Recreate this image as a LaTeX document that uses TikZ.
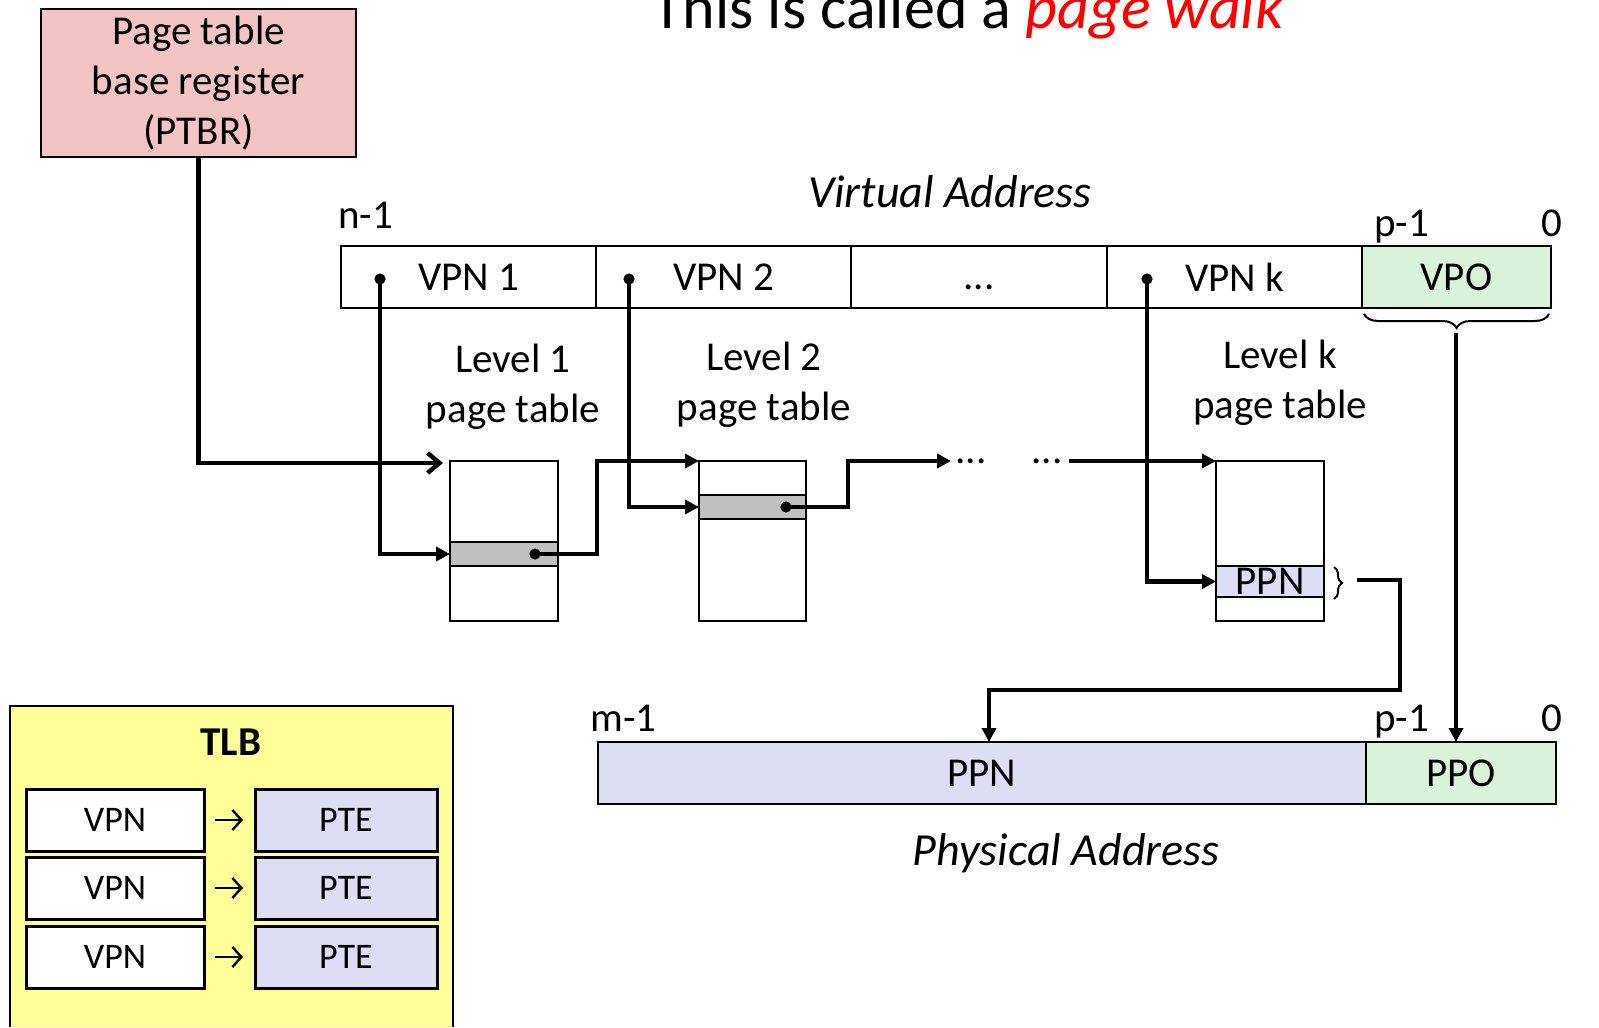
\documentclass[tikz,border=0pt]{standalone}
\usepackage{fontspec}
\setmainfont{Carlito}
\usetikzlibrary{arrows.meta,decorations.pathreplacing,calc}
\definecolor{ptbrpink}{HTML}{F2C4C4}
\definecolor{offgreen}{HTML}{D9F2D9}
\definecolor{lav}{HTML}{DDDDF3}
\definecolor{tblgray}{HTML}{C0C0C0}
\definecolor{tlbyellow}{HTML}{FFFF99}
\begin{document}
\begin{tikzpicture}[x=0.5pt,y=-0.5pt,
  font=\fontsize{20.5}{25}\selectfont,
  cell/.style={draw, line width=1pt, inner sep=0pt, outer sep=0pt, minimum height=31pt},
  tbl/.style={draw, line width=1pt, inner sep=0pt, outer sep=0pt, minimum height=80pt},
  tlbcell/.style={draw, line width=1.5pt, inner sep=0pt, outer sep=0pt, minimum height=31pt, font=\fontsize{18}{22}\selectfont},
  conn/.style={line width=2.2pt, -{Triangle[length=7pt,width=7pt]}},
  lbl/.style={inner sep=0pt},
  italbl/.style={inner sep=0pt, font=\fontsize{23}{25}\selectfont\itshape},
  brc/.style={line width=1pt, decorate},
  dot/.style={fill=black}]
\useasboundingbox (0,0) rectangle (1599,1027);
\clip (0,0) rectangle (1599,1027);

% title
\node[anchor=base, inner sep=0pt, font=\fontsize{31}{31}\selectfont] (title) at (968,29) {This is called a \textcolor{red}{\itshape page walk}};

% PTBR
\node[draw, line width=1pt, fill=ptbrpink, minimum width=157.5pt, minimum height=74pt, inner sep=0pt, outer sep=0pt, align=center] (ptbr) at (198.5,83) {Page table\\base register\\(PTBR)};

% virtual address
\node[italbl] (valbl) at (950,192) {Virtual Address};
\node[lbl, anchor=base west] (n1) at (338,228) {n-1};
\node[lbl, anchor=base west] (vp1) at (1374,236) {p-1};
\node[lbl, anchor=base east] (v0) at (1563,236) {0};
\node[cell, minimum width=127.5pt] (v1) at (468.5,277) {VPN 1};
\node[cell, minimum width=127.5pt] (v2) at (723.5,277) {VPN 2};
\node[cell, minimum width=128pt] (v3) at (979,277) {\vphantom{VPN}...};
\node[cell, minimum width=127.5pt] (vk) at (1234.5,277) {VPN k};
\node[cell, minimum width=94.5pt, fill=offgreen] (vpo) at (1456.5,277) {VPO};

\coordinate (d1) at (380,279);
\coordinate (d2) at (629,279);
\coordinate (dk) at (1147,279);
\fill[dot] (d1) circle (2.8pt);
\fill[dot] (d2) circle (2.8pt);
\fill[dot] (dk) circle (2.8pt);

% level labels
\node[lbl, align=center] (lev1) at (513,387) {Level 1\\page table};
\node[lbl, align=center] (lev2) at (764,385) {Level 2\\page table};
\node[lbl, align=center] (levk) at (1280,383) {Level k\\page table};

% tables
\node[tbl, minimum width=54pt] (t1) at (504,541) {};
\node[cell, minimum width=54pt, minimum height=12pt, fill=tblgray] (g1) at (504,554) {};
\node[tbl, minimum width=53.5pt] (t2) at (752.5,541) {};
\node[cell, minimum width=53.5pt, minimum height=12pt, fill=tblgray] (g2) at (752.5,507) {};
\node[tbl, minimum width=54pt] (tk) at (1270,541) {};
\node[cell, minimum width=54pt, minimum height=15.5pt, fill=lav] (ppnrow) at (1270,581.5) {PPN};

\coordinate (gd1) at (535,554);
\coordinate (gd2) at (786,507);
\fill[dot] (gd1) circle (2.8pt);
\fill[dot] (gd2) circle (2.8pt);

\node[lbl] (dotsA) at (971,461) {...};
\node[lbl] (dotsB) at (1047,461) {...};

% connectors
\draw[line width=2.2pt, -{Straight Barb[length=6pt,width=10pt]}] (ptbr.south) |- ($(t1.north west)+(-7,2)$);
\draw[conn] (d1) |- (g1.west);
\draw[conn] (gd1) -- (597,554) |- (t2.north west);
\draw[conn] (d2) |- (g2.west);
\draw[conn] (gd2) -- (848,507) |- ($(dotsA.west)+(-4,0)$);
\draw[conn] ($(dotsB.east)+(6,0)$) -- (tk.north west);
\draw[conn] (dk) |- (ppnrow.west);

% braces
\draw[brc, decoration={brace, amplitude=4pt}] (1334,567) -- (1334,599);
\coordinate (ppnOut) at (1357,580);
\draw[brc, decoration={brace, amplitude=7pt}] (1549,314) -- (1364,314);
\coordinate (vpoTip) at (1456,333);

% physical address
\node[lbl, anchor=base west] (m1) at (590,731) {m-1};
\node[lbl, anchor=base west] (pp1) at (1374,731) {p-1};
\node[lbl, anchor=base east] (p0) at (1563,731) {0};
\node[cell, minimum width=384pt, fill=lav] (ppnP) at (982,773) {PPN};
\node[cell, minimum width=95pt, fill=offgreen] (ppo) at (1461,773) {PPO};
\node[italbl] (palbl) at (1066,853) {Physical Address};
\coordinate (ppnIn) at (989,742);

\draw[conn] (ppnOut) -- (1400,580) -- (1400,690) -| (ppnIn);
\draw[conn] (vpoTip) -- (vpoTip |- ppo.north);

% TLB (runs off the bottom edge)
\node[fill=tlbyellow, minimum width=221.5pt, minimum height=160.5pt, inner sep=0pt, outer sep=0pt] (tlb) at (231.5,866.5) {};
\draw[line width=1pt] (tlb.south west) |- (tlb.north east) -- (tlb.south east);
\node[lbl, font=\fontsize{20.5}{25}\selectfont\bfseries] (tlbt) at (231,742) {TLB};
\node[tlbcell, minimum width=89pt, fill=white] (tv1) at (115,820) {VPN};
\node[tlbcell, minimum width=89pt, fill=white] (tv2) at (115,888) {VPN};
\node[tlbcell, minimum width=89pt, fill=white] (tv3) at (115,957) {VPN};
\node[tlbcell, minimum width=91pt, fill=lav] (tp1) at (346,820) {PTE};
\node[tlbcell, minimum width=91pt, fill=lav] (tp2) at (346,888) {PTE};
\node[tlbcell, minimum width=91pt, fill=lav] (tp3) at (346,957) {PTE};
\foreach \i in {1,2,3}{
  \draw[line width=1.2pt, -{Straight Barb[length=4.5pt,width=10pt]}, shorten <=5.5pt, shorten >=6pt] (tv\i) -- (tp\i);
}
\end{tikzpicture}
\end{document}
